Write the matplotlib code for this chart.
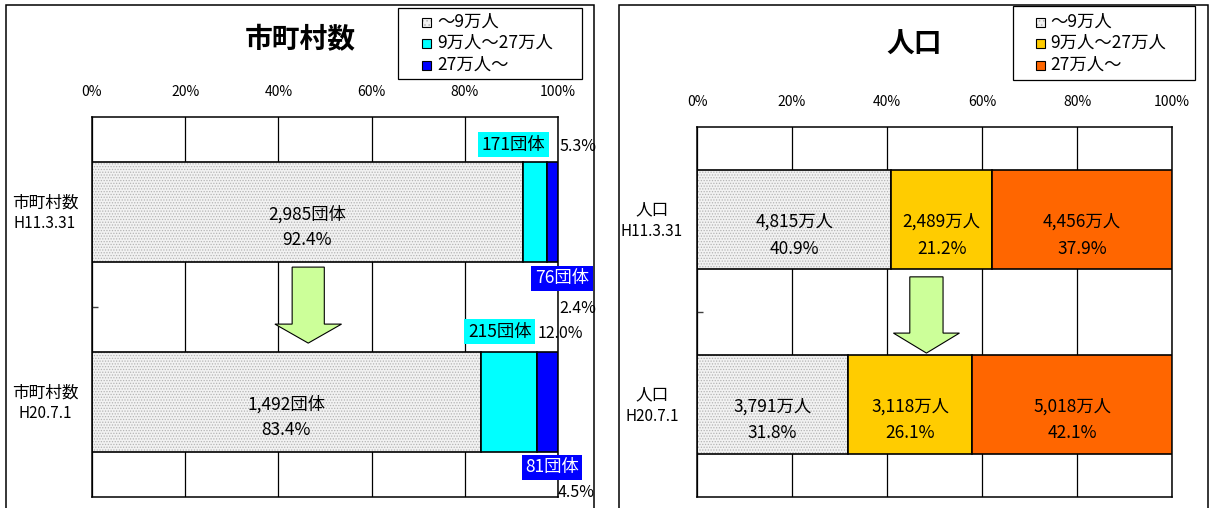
import matplotlib
matplotlib.use("Agg")
import matplotlib.pyplot as plt
from matplotlib.patches import Polygon, Rectangle

plt.rcParams["font.family"] = ["Noto Sans CJK JP", "DejaVu Sans"]
plt.rcParams["hatch.linewidth"] = 0.6

W, H = 1209, 508

# ---- data -------------------------------------------------------------
periods = ["H11.3.31", "H20.7.1"]
size_classes = ["～9万人", "9万人～27万人", "27万人～"]

muni_title = "市町村数"
muni_counts = [[2985, 171, 76], [1492, 215, 81]]          # 団体
muni_share = [[92.4, 5.3, 2.4], [83.4, 12.0, 4.5]]        # %

pop_title = "人口"
pop_counts = [[4815, 2489, 4456], [3791, 3118, 5018]]     # 万人
pop_share = [[40.9, 21.2, 37.9], [31.8, 26.1, 42.1]]      # %

tick_values = [0, 20, 40, 60, 80, 100]
tick_labels = [f"{v}%" for v in tick_values]

muni_colors = ["#f2f2f2", "#00FFFF", "#0000FF"]
pop_colors = ["#f2f2f2", "#FFCC00", "#FF6600"]

BAR_H = 0.53
DOT_COLOR = "#b4b4b4"
LABEL_FS = 12.5


def fig_px(x, y):
    return x / W, 1 - y / H


def add_px_axes(fig, x0, y0, x1, y1):
    return fig.add_axes([x0 / W, 1 - y1 / H, (x1 - x0) / W, (y1 - y0) / H])


def setup_axes(ax):
    ax.set_xlim(0, 100)
    ax.set_ylim(2, 0)
    ax.set_xticks(tick_values)
    ax.set_xticklabels(tick_labels, fontsize=10)
    ax.xaxis.tick_top()
    ax.tick_params(axis="x", length=0, pad=13)
    ax.set_yticks([1])
    ax.set_yticklabels([])
    ax.tick_params(axis="y", direction="in", length=4, width=1, color="#404040")
    ax.grid(axis="x", color="black", linewidth=0.9)
    ax.set_axisbelow(True)
    for s in ax.spines.values():
        s.set_color("black")
        s.set_linewidth(1.1)


def draw_bars(ax, shares, colors):
    ypos = [0.5 + i for i in range(len(shares))]
    lefts_all = []
    for y, row in zip(ypos, shares):
        left = 0.0
        lefts = []
        for k, (v, c) in enumerate(zip(row, colors)):
            if k == 0:
                ax.barh(y, v, left=left, height=BAR_H, facecolor=c,
                        edgecolor=DOT_COLOR, hatch="......", linewidth=0, zorder=2)
                ax.barh(y, v, left=left, height=BAR_H, facecolor="none",
                        edgecolor="black", linewidth=1.2, zorder=3)
            else:
                ax.barh(y, v, left=left, height=BAR_H, facecolor=c,
                        edgecolor="black", linewidth=1.2, zorder=3)
            lefts.append(left)
            left += v
        lefts_all.append(lefts)
    return ypos, lefts_all


def label_px(ax, x, y, dx, dy, text, **kw):
    kw.setdefault("fontsize", LABEL_FS)
    kw.setdefault("ha", "center")
    kw.setdefault("va", "center")
    return ax.annotate(text, xy=(x, y), xycoords="data", xytext=(dx, dy),
                       textcoords="offset pixels", annotation_clip=False,
                       zorder=5, **kw)


def down_arrow(ax, xc, y_top, y_base, y_tip, shaft_half, head_half):
    pts = [(xc - shaft_half, y_top), (xc + shaft_half, y_top),
           (xc + shaft_half, y_base), (xc + head_half, y_base),
           (xc, y_tip), (xc - head_half, y_base), (xc - shaft_half, y_base)]
    ax.add_patch(Polygon(pts, closed=True, facecolor="#CCFF99",
                         edgecolor="black", linewidth=0.8, zorder=4))


def legend_box(fig, x0, y0, x1, y1, hx, tx, rows_y, colors):
    fx0, fy0 = fig_px(x0, y1)
    fig.add_artist(Rectangle((fx0, fy0), (x1 - x0) / W, (y1 - y0) / H,
                             transform=fig.transFigure, facecolor="white",
                             edgecolor="black", linewidth=0.9))
    sq = 9
    for k, (ry, lab, c) in enumerate(zip(rows_y, size_classes, colors)):
        sx, sy = fig_px(hx, ry + sq / 2)
        if k == 0:
            fig.add_artist(Rectangle((sx, sy), sq / W, sq / H,
                                     transform=fig.transFigure, facecolor=c,
                                     edgecolor=DOT_COLOR, hatch="....",
                                     linewidth=0))
        fig.add_artist(Rectangle((sx, sy), sq / W, sq / H,
                                 transform=fig.transFigure,
                                 facecolor="none" if k == 0 else c,
                                 edgecolor="black", linewidth=0.8))
        fx, fy = fig_px(tx, ry)
        fig.text(fx, fy, lab, fontsize=12.5, ha="left", va="center")


def panel_frame(fig, x0, y0, x1, y1):
    fx0, fy0 = fig_px(x0, y1)
    fig.add_artist(Rectangle((fx0, fy0), (x1 - x0) / W, (y1 - y0) / H,
                             transform=fig.transFigure, facecolor="none",
                             edgecolor="black", linewidth=1.1, clip_on=False))


fig = plt.figure(figsize=(W / 100, H / 100), dpi=100)
fig.patch.set_facecolor("white")

panel_frame(fig, 6, 5, 594, 530)
panel_frame(fig, 619, 5, 1208, 530)

# ---- 市町村数 ----------------------------------------------------------
axL = add_px_axes(fig, 92, 117, 558, 497)
setup_axes(axL)
yL, leftsL = draw_bars(axL, muni_share, muni_colors)

for i, y in enumerate(yL):
    v = muni_share[i][0]
    label_px(axL, v / 2, y, 0, -2, f"{muni_counts[i][0]:,}団体")
    label_px(axL, v / 2, y, 0, -28, f"{v:.1f}%")

top0, bot0 = yL[0] - BAR_H / 2, yL[0] + BAR_H / 2
top1, bot1 = yL[1] - BAR_H / 2, yL[1] + BAR_H / 2
end2_0 = leftsL[0][2]
end2_1 = leftsL[1][2]
cyan_box = dict(boxstyle="square,pad=0.2", facecolor=muni_colors[1], edgecolor="none")
blue_box = dict(boxstyle="square,pad=0.2", facecolor=muni_colors[2], edgecolor="none")

label_px(axL, end2_0, top0, -2, 17, f"{muni_counts[0][1]}団体", ha="right", bbox=cyan_box)
label_px(axL, 100, top0, 1, 15, f"{muni_share[0][1]:.1f}%", ha="left", fontsize=11.5)
label_px(axL, 100, bot0, 4, -16, f"{muni_counts[0][2]}団体", color="white", bbox=blue_box)
label_px(axL, 100, bot0, 1, -46, f"{muni_share[0][2]:.1f}%", ha="left", fontsize=11.5)
label_px(axL, end2_1, top1, -5, 20, f"{muni_counts[1][1]}団体", ha="right", bbox=cyan_box)
label_px(axL, end2_1, top1, 1, 18, f"{muni_share[1][1]:.1f}%", ha="left", fontsize=11.5)
label_px(axL, 100, bot1, -6, -15, f"{muni_counts[1][2]}団体", color="white", bbox=blue_box)
label_px(axL, 100, bot1, 0, -40, f"{muni_share[1][2]:.1f}%", ha="left", fontsize=11.5)

for y, p in zip(yL, periods):
    label_px(axL, 0, y, -47, 9, muni_title, fontsize=12)
    label_px(axL, 0, y, -47, -11, p, fontsize=11)

down_arrow(axL, 46.4, 0.79, 1.09, 1.19, 3.45, 7.15)

fx, fy = fig_px(300, 40)
fig.text(fx, fy, muni_title, fontsize=20, fontweight="bold", ha="center", va="center")
legend_box(fig, 398, 8, 582, 79, 422, 437, [22, 43, 65], muni_colors)

# ---- 人口 --------------------------------------------------------------
axR = add_px_axes(fig, 697, 127, 1172, 497)
setup_axes(axR)
yR, leftsR = draw_bars(axR, pop_share, pop_colors)

for i, y in enumerate(yR):
    for k in range(3):
        v = pop_share[i][k]
        xc = leftsR[i][k] + v / 2
        label_px(axR, xc, y, 0, -2, f"{pop_counts[i][k]:,}万人")
        label_px(axR, xc, y, 0, -29, f"{v:.1f}%")

for y, p in zip(yR, periods):
    label_px(axR, 0, y, -45, 10, pop_title, fontsize=12)
    label_px(axR, 0, y, -45, -12, p, fontsize=11)

down_arrow(axR, 48.3, 0.81, 1.114, 1.222, 3.5, 6.95)

fx, fy = fig_px(914, 45)
fig.text(fx, fy, pop_title, fontsize=20, fontweight="bold", ha="center", va="center")
legend_box(fig, 1013, 6, 1195, 80, 1036, 1050, [22, 43, 65], pop_colors)

fig.savefig("out.png", dpi=100, facecolor="white")
